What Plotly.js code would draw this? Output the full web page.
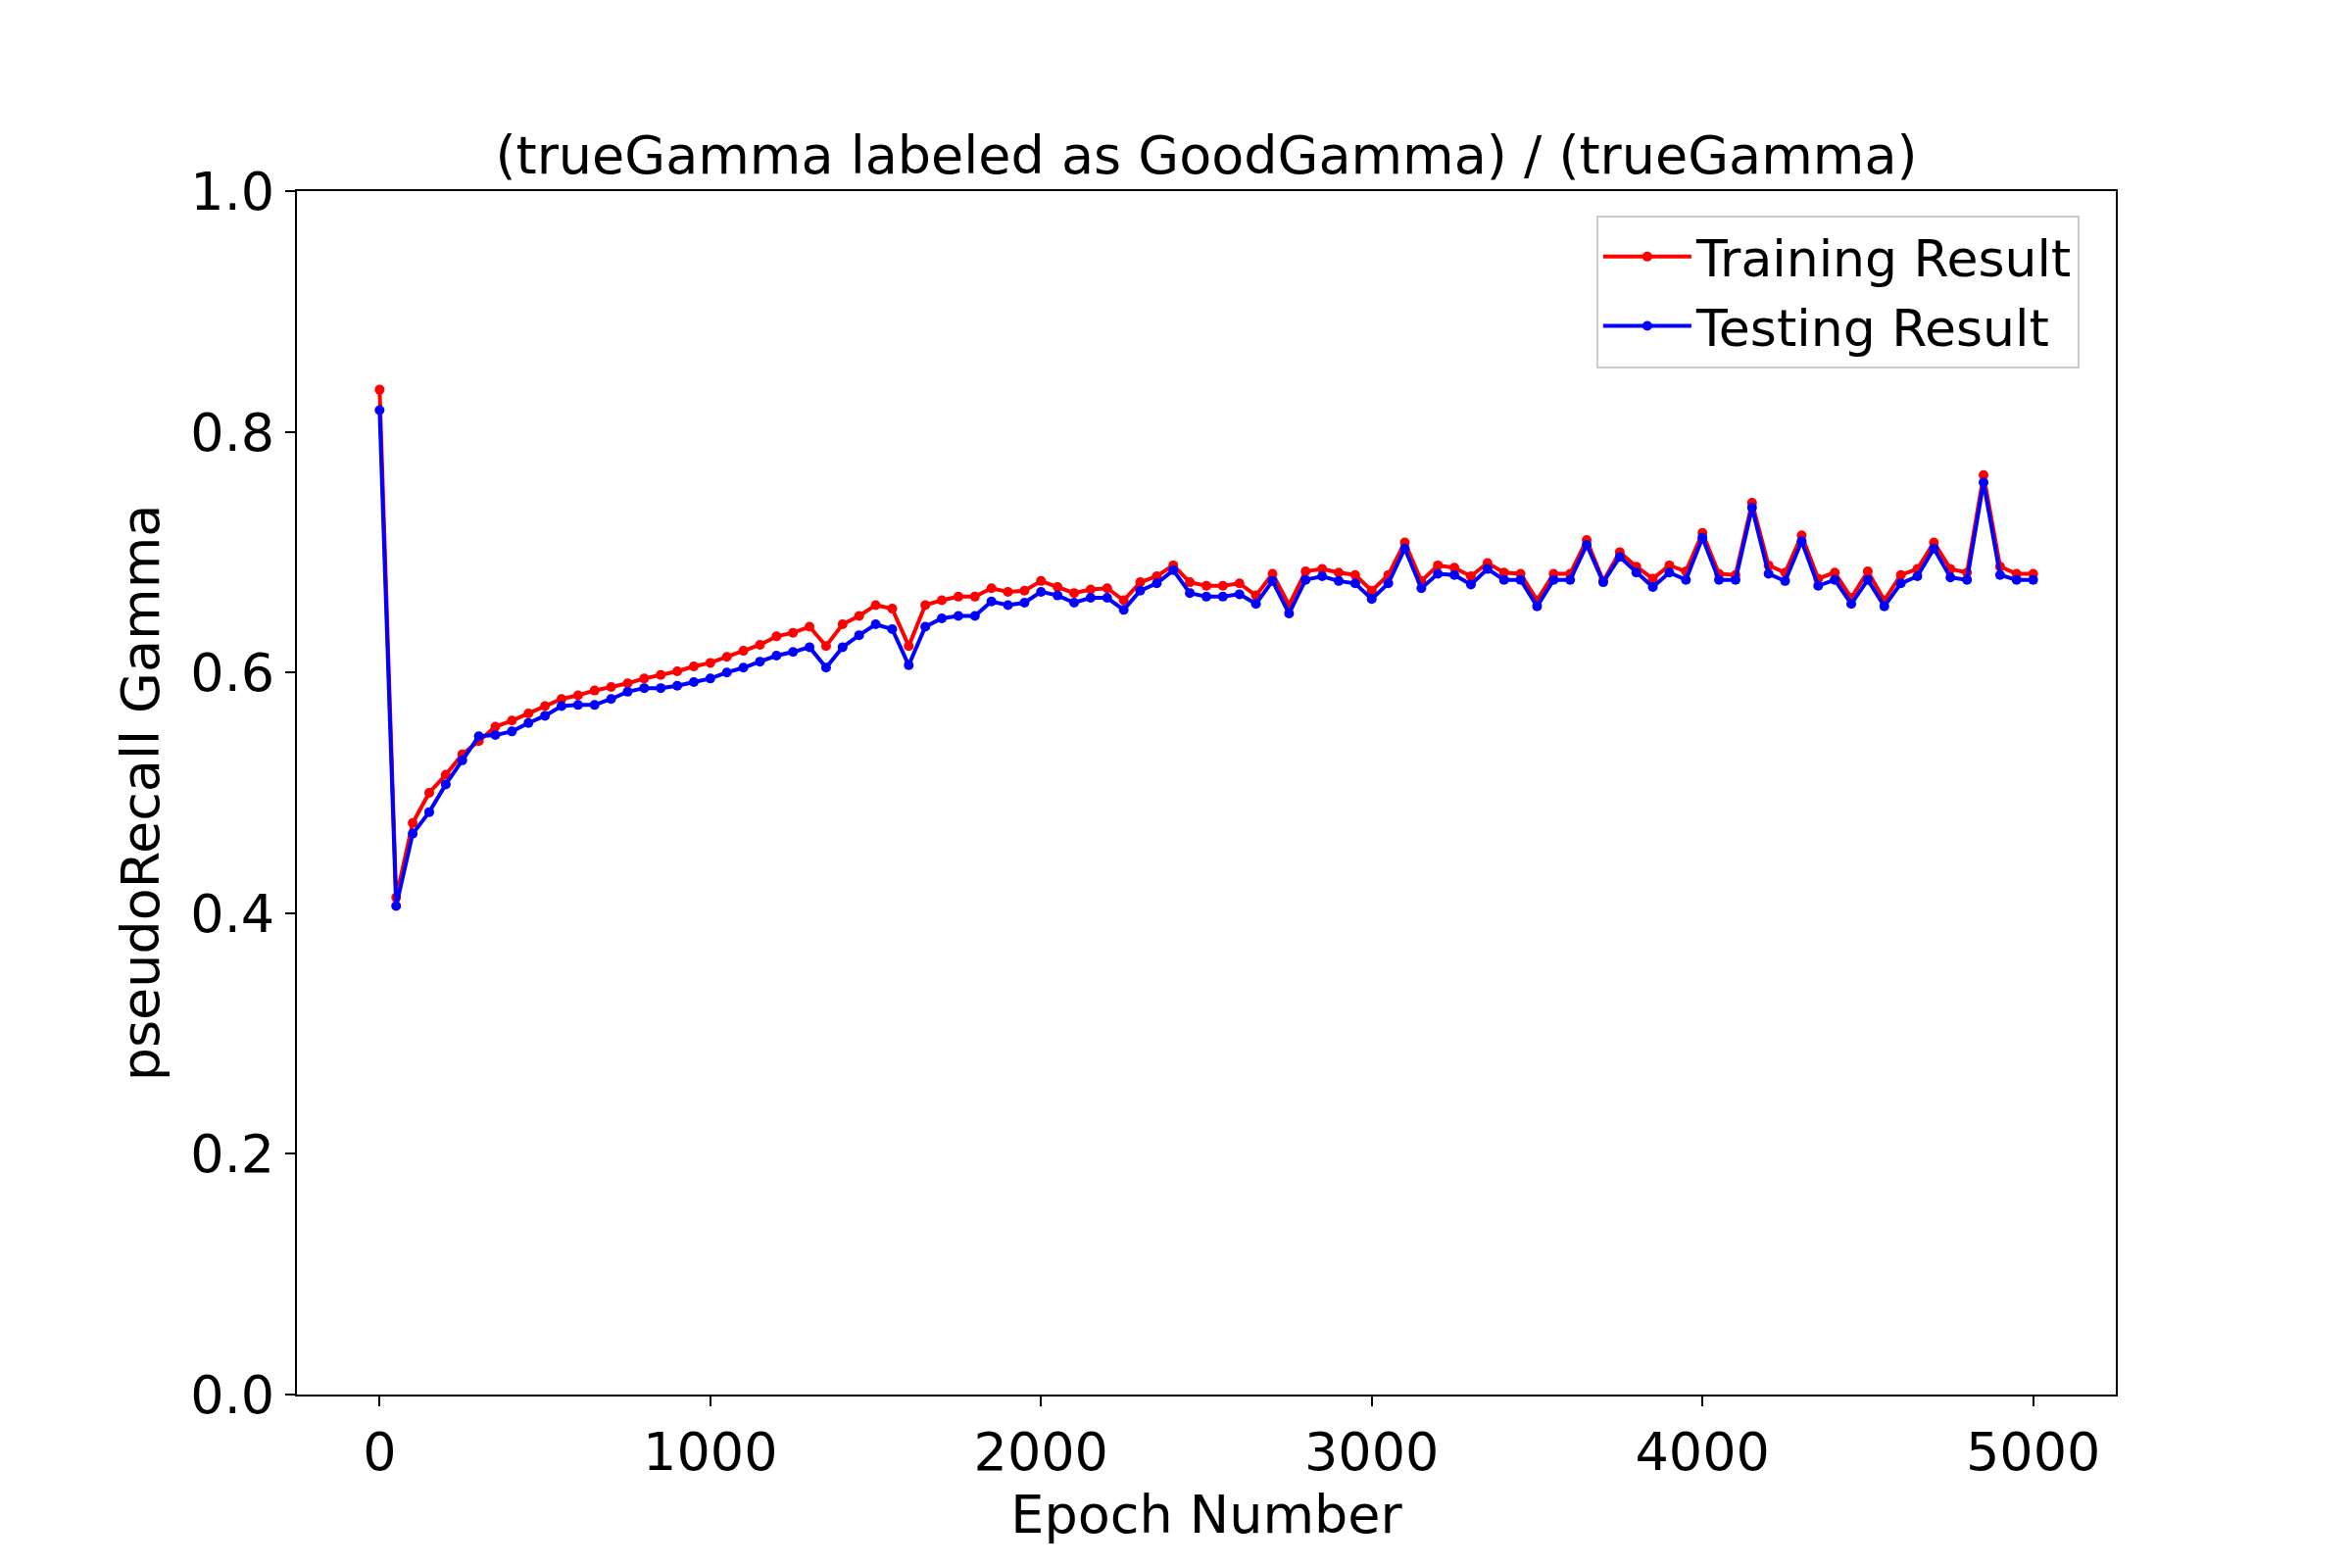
<!DOCTYPE html>
<html>
<head>
<meta charset="utf-8">
<script src="https://cdn.plot.ly/plotly-3.0.1.min.js"></script>
<style>body{margin:0;background:#fff}</style>
</head>
<body>
<div id="chart" style="width:2400px;height:1600px"></div>
<script>
var epochs = [];
for (var e = 0; e <= 5000; e += 50) epochs.push(e);

var trainResult = [0.835, 0.413, 0.475, 0.500, 0.515, 0.532, 0.543, 0.555, 0.560, 0.566,
  0.572, 0.578, 0.581, 0.585, 0.588, 0.591, 0.595, 0.598, 0.601, 0.605,
  0.608, 0.613, 0.618, 0.623, 0.630, 0.633, 0.638, 0.622, 0.640, 0.647,
  0.656, 0.653, 0.622, 0.656, 0.660, 0.663, 0.663, 0.670, 0.667, 0.668,
  0.676, 0.671, 0.666, 0.669, 0.670, 0.660, 0.675, 0.680, 0.689, 0.675,
  0.672, 0.672, 0.674, 0.664, 0.682, 0.656, 0.684, 0.686, 0.683, 0.681,
  0.668, 0.681, 0.708, 0.676, 0.689, 0.687, 0.680, 0.691, 0.683, 0.682,
  0.660, 0.682, 0.682, 0.710, 0.676, 0.700, 0.688, 0.678, 0.689, 0.684,
  0.716, 0.682, 0.681, 0.741, 0.689, 0.683, 0.714, 0.678, 0.683, 0.662,
  0.684, 0.660, 0.681, 0.686, 0.708, 0.686, 0.683, 0.764, 0.688, 0.682, 0.682];

var testResult = [0.818, 0.406, 0.466, 0.484, 0.507, 0.527, 0.547, 0.548, 0.551, 0.558,
  0.564, 0.572, 0.573, 0.573, 0.578, 0.584, 0.587, 0.587, 0.589, 0.592,
  0.595, 0.600, 0.604, 0.609, 0.614, 0.617, 0.621, 0.604, 0.621, 0.631,
  0.640, 0.636, 0.606, 0.638, 0.645, 0.647, 0.647, 0.659, 0.656, 0.658,
  0.667, 0.664, 0.658, 0.662, 0.662, 0.652, 0.668, 0.674, 0.685, 0.666,
  0.663, 0.663, 0.665, 0.657, 0.676, 0.649, 0.677, 0.680, 0.676, 0.674,
  0.661, 0.674, 0.703, 0.670, 0.682, 0.681, 0.673, 0.686, 0.677, 0.677,
  0.655, 0.677, 0.677, 0.706, 0.675, 0.696, 0.683, 0.671, 0.683, 0.677,
  0.712, 0.677, 0.677, 0.737, 0.682, 0.676, 0.709, 0.672, 0.677, 0.657,
  0.677, 0.655, 0.674, 0.680, 0.703, 0.679, 0.677, 0.758, 0.681, 0.677, 0.677];

var train = {
  x: epochs, y: trainResult, type: 'scatter', mode: 'lines+markers',
  name: 'Training Result',
  line: {color: 'red', width: 4},
  marker: {color: 'red', size: 10}
};
var test = {
  x: epochs, y: testResult, type: 'scatter', mode: 'lines+markers',
  name: 'Testing Result',
  line: {color: 'blue', width: 4},
  marker: {color: 'blue', size: 10}
};

var axisStyle = {
  showgrid: false, zeroline: false, showline: true, mirror: true,
  linecolor: 'black', linewidth: 2, ticks: 'outside', ticklen: 10, tickwidth: 2,
  tickcolor: 'black', tickfont: {size: 54, color: 'black'}
};

var layout = {
  width: 2400, height: 1600,
  paper_bgcolor: 'white', plot_bgcolor: 'white',
  font: {family: 'DejaVu Sans, sans-serif', color: 'black', size: 54},
  title: {text: '(trueGamma labeled as GoodGamma) / (trueGamma)', font: {size: 54},
    x: 0.5, xref: 'paper', y: 1 - 158 / 1600, yanchor: 'middle'},
  margin: {l: 303, r: 241, t: 195, b: 177},
  xaxis: Object.assign({}, axisStyle, {
    range: [-250, 5250], tickvals: [0, 1000, 2000, 3000, 4000, 5000],
    title: {text: 'Epoch Number', font: {size: 54}, standoff: 14}
  }),
  yaxis: Object.assign({}, axisStyle, {
    range: [0, 1], tickvals: [0, 0.2, 0.4, 0.6, 0.8, 1.0], tickformat: '.1f',
    title: {text: 'pseudoRecall Gamma', font: {size: 54}, standoff: 14}
  }),
  legend: {
    x: 0.98, y: 0.98, xanchor: 'right', yanchor: 'top',
    bordercolor: '#cccccc', borderwidth: 2, bgcolor: 'rgba(255,255,255,0.8)',
    font: {size: 52}, itemwidth: 90, tracegroupgap: 0
  }
};

Plotly.newPlot('chart', [train, test], layout, {displayModeBar: false});
</script>
</body>
</html>
